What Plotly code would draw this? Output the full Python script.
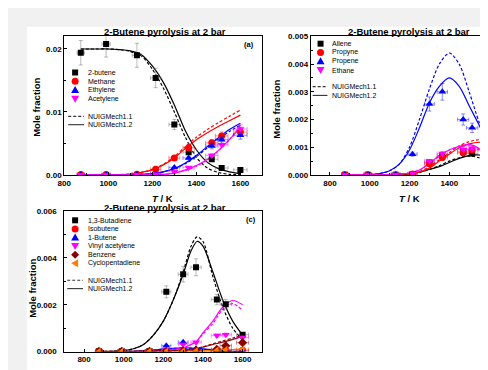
import plotly.graph_objects as go

W, H = 488, 370
FONT = "Liberation Sans, Arial, sans-serif"

# ---------------- data ----------------
T_exp = [875, 990, 1130, 1215, 1300, 1365, 1470, 1515, 1600]
T_mod = [875, 950, 1000, 1050, 1100, 1150, 1200, 1250, 1300, 1350, 1400, 1450, 1500, 1550, 1600]
T_mod_c = [875, 950, 1000, 1050, 1100, 1150, 1200, 1250, 1300, 1340, 1370, 1400, 1450, 1500, 1550, 1600]

# panel (a) experiments
a_butene = [0.0194, 0.0208, 0.0190, 0.0154, 0.0080, 0.0036, 0.0025, 0.0011, 0.0008]
a_methane = [0.00005, 0.00005, 0.0001, 0.0009, 0.0027, 0.0043, 0.0051, 0.0062, 0.0068]
a_ethylene = [0.00003, 0.00003, 0.00005, 0.0002, 0.0012, 0.0027, 0.0046, 0.0056, 0.0063]
a_acetylene = [0.00003, 0.00003, 0.00003, 0.0001, 0.0005, 0.0012, 0.0031, 0.0048, 0.0073]
# panel (a) models
a_butene_m11 = [0.0200, 0.0200, 0.0200, 0.0199, 0.0196, 0.0189, 0.0168, 0.0138, 0.0100, 0.0060, 0.0028, 0.0011, 0.0004, 0.0001, 0.00005]
a_butene_m12 = [0.0200, 0.0200, 0.0200, 0.0199, 0.0197, 0.0191, 0.0173, 0.0147, 0.0111, 0.0070, 0.0040, 0.0020, 0.0010, 0.0005, 0.0002]
a_methane_m11 = [0, 0, 0.00002, 0.00005, 0.00015, 0.0004, 0.0009, 0.0017, 0.0029, 0.0045, 0.0060, 0.0072, 0.0083, 0.0093, 0.0103]
a_methane_m12 = [0, 0, 0.00002, 0.00005, 0.00015, 0.0004, 0.0008, 0.0016, 0.0027, 0.0042, 0.0056, 0.0067, 0.0077, 0.0086, 0.0095]
a_ethylene_m11 = [0, 0, 0, 0.00001, 0.00003, 0.00008, 0.0002, 0.0005, 0.0010, 0.0018, 0.0029, 0.0043, 0.0057, 0.0069, 0.0079]
a_ethylene_m12 = [0, 0, 0, 0.00001, 0.00003, 0.00008, 0.0002, 0.0005, 0.0010, 0.0019, 0.0031, 0.0045, 0.0059, 0.0072, 0.0082]
a_acetylene_m11 = [0, 0, 0, 0, 0.00001, 0.00002, 0.00005, 0.0001, 0.0003, 0.0007, 0.0014, 0.0024, 0.0038, 0.0056, 0.0079]
a_acetylene_m12 = [0, 0, 0, 0, 0.00001, 0.00002, 0.00005, 0.0001, 0.0003, 0.0008, 0.0015, 0.0025, 0.0039, 0.0056, 0.0076]

# panel (b) experiments
b_allene = [0.00001, 0.00001, 0.00001, 0.00003, 0.00045, 0.0007, 0.00084, 0.00077, 0.00063]
b_propyne = [0.00001, 0.00001, 0.00001, 0.00003, 0.0004, 0.00063, 0.0008, 0.0009, 0.0007]
b_propene = [0.00001, 0.00001, 0.00002, 0.00075, 0.00256, 0.0030, 0.0020, 0.0017, 0.0006]
b_ethane = [0.00001, 0.00001, 0.00001, 0.00005, 0.0005, 0.00077, 0.00092, 0.00095, 0.0005]
# panel (b) models
b_allene_m11 = [0, 0, 0, 0, 0.00001, 0.00002, 0.00004, 0.0001, 0.0002, 0.00033, 0.0005, 0.00062, 0.00068, 0.00062, 0.00045]
b_allene_m12 = [0, 0, 0, 0, 0.00001, 0.00002, 0.00004, 0.0001, 0.0002, 0.0003, 0.00045, 0.0006, 0.0007, 0.00072, 0.00062]
b_propyne_m11 = [0, 0, 0, 0, 0.00001, 0.00002, 0.00005, 0.00012, 0.0003, 0.00055, 0.0008, 0.00105, 0.0012, 0.00127, 0.00122]
b_propyne_m12 = [0, 0, 0, 0, 0.00001, 0.00002, 0.00005, 0.0001, 0.00025, 0.0005, 0.00075, 0.00098, 0.00112, 0.00118, 0.00112]
b_propene_m11 = [0, 0.00001, 0.00002, 0.00005, 0.00015, 0.0004, 0.0010, 0.0020, 0.0031, 0.0040, 0.0044, 0.0040, 0.0030, 0.0019, 0.0010]
b_propene_m12 = [0, 0.00001, 0.00002, 0.00005, 0.00015, 0.0004, 0.0009, 0.0017, 0.0026, 0.0032, 0.0035, 0.0032, 0.0025, 0.0018, 0.0011]
b_ethane_m11 = [0, 0, 0, 0, 0.00001, 0.00003, 0.00007, 0.00018, 0.0004, 0.00068, 0.0009, 0.00102, 0.00105, 0.0009, 0.0005]
b_ethane_m12 = [0, 0, 0, 0, 0.00001, 0.00003, 0.00007, 0.00018, 0.00042, 0.0007, 0.0009, 0.00103, 0.0011, 0.00095, 0.00055]

# panel (c) experiments
c_butadiene = [0.00001, 0.00001, 0.00002, 0.00255, 0.00330, 0.00360, 0.00222, 0.00202, 0.00072]
c_isobutene = [0.00001, 0.00001, 0.00001, 0.00001, 0.00002, 0.00003, 0.00004, 0.00005, 0.00005]
c_butene1 = [0.00001, 0.00001, 0.00002, 0.00025, 0.0004, 0.00012, 0.00005, 0.00003, 0.00001]
c_vinylacet = [0.00001, 0.00001, 0.00001, 0.00005, 0.0003, 0.0004, 0.00068, 0.00072, 0.0006]
c_benzene = [0.00001, 0.00001, 0.00001, 0.00001, 0.00003, 0.00005, 0.0001, 0.00025, 0.00038]
c_cpd = [0.0, 0.0, 0.0, 0.0, 0.00001, 0.00002, 0.00005, 0.00007, 0.0001]
# panel (c) models
c_butadiene_m11 = [0, 0.00001, 0.00004, 0.00012, 0.0003, 0.0007, 0.0013, 0.0022, 0.0034, 0.0045, 0.0049, 0.0047, 0.0032, 0.0019, 0.0010, 0.0005]
c_butadiene_m12 = [0, 0.00001, 0.00004, 0.00012, 0.0003, 0.0007, 0.0013, 0.0022, 0.0033, 0.0043, 0.0047, 0.0045, 0.0034, 0.0022, 0.0013, 0.0007]
c_vinylacet_m11 = [0, 0, 0, 0, 0.00001, 0.00002, 0.00004, 0.00008, 0.00015, 0.0003, 0.00045, 0.00075, 0.0012, 0.0018, 0.00205, 0.00175]
c_vinylacet_m12 = [0, 0, 0, 0, 0.00001, 0.00002, 0.00004, 0.00008, 0.00015, 0.0003, 0.00045, 0.0008, 0.0013, 0.0019, 0.00218, 0.0020]
c_benzene_m11 = [0.00001, 0.00001, 0.00001, 0.00001, 0.00002, 0.00002, 0.00003, 0.00004, 0.00006, 0.0001, 0.00014, 0.0002, 0.00033, 0.00045, 0.00058, 0.0007]
c_benzene_m12 = [0.00001, 0.00001, 0.00001, 0.00001, 0.00002, 0.00002, 0.00003, 0.00004, 0.00005, 0.00009, 0.00013, 0.00019, 0.0003, 0.0004, 0.00052, 0.00065]
c_butene1_m11 = [0, 0, 0, 0.00001, 0.00003, 0.00006, 0.0001, 0.00013, 0.00015, 0.00014, 0.00012, 0.0001, 0.00006, 0.00003, 0.00001, 0]
c_butene1_m12 = [0, 0, 0, 0.00001, 0.00003, 0.00006, 0.00011, 0.00014, 0.00016, 0.00015, 0.00013, 0.00011, 0.00007, 0.00003, 0.00001, 0]
c_isobutene_m11 = [0, 0, 0, 0, 0.00001, 0.00002, 0.00003, 0.00004, 0.00005, 0.00005, 0.00004, 0.00003, 0.00002, 0.00001, 0, 0]
c_isobutene_m12 = [0, 0, 0, 0, 0.00001, 0.00002, 0.00003, 0.00004, 0.00005, 0.00005, 0.00004, 0.00003, 0.00002, 0.00001, 0, 0]
c_cpd_m11 = [0, 0, 0, 0, 0, 0, 0, 0.00001, 0.00001, 0.00002, 0.00002, 0.00003, 0.00005, 0.00007, 0.00009, 0.00011]
c_cpd_m12 = [0, 0, 0, 0, 0, 0, 0, 0.00001, 0.00001, 0.00002, 0.00002, 0.00003, 0.00004, 0.00006, 0.00008, 0.0001]

TITLE = "2-Butene pyrolysis at 2 bar"
MODEL_NAMES = ["NUIGMech1.1", "NUIGMech1.2"]

# ---------------- styles ----------------
BLACK, RED, BLUE, MAG, DRED, ORG = "#000000", "#ff0000", "#0000ff", "#ff00ff", "#8b0000", "#ff8000"


def rgba(hexc, a):
    h = hexc.lstrip("#")
    return "rgba(%d,%d,%d,%.2f)" % (int(h[0:2], 16), int(h[2:4], 16), int(h[4:6], 16), a)


fig = go.Figure()


def add_model(ax, T, vals, color, dash):
    fig.add_trace(go.Scatter(
        x=T, y=vals, mode="lines", xaxis="x" + ax, yaxis="y" + ax,
        line=dict(color=color, width=1.2, dash=dash, shape="spline", smoothing=0.8),
        showlegend=False, hoverinfo="skip"))


def add_exp(ax, vals, color, symbol, size=6):
    ecol = rgba(color if color != BLACK else "#666666", 0.45)
    fig.add_trace(go.Scatter(
        x=T_exp, y=vals, mode="markers", xaxis="x" + ax, yaxis="y" + ax,
        marker=dict(symbol=symbol, size=size, color=color, line=dict(width=0)),
        error_y=dict(type="percent", value=10, color=ecol, thickness=1, width=2),
        error_x=dict(type="percent", value=1.9, color=ecol, thickness=1, width=2),
        showlegend=False))


DASH = "3px,2px"
# panel a (axis suffix "")
for m11, m12, c in [(a_butene_m11, a_butene_m12, BLACK), (a_methane_m11, a_methane_m12, RED),
                    (a_ethylene_m11, a_ethylene_m12, BLUE), (a_acetylene_m11, a_acetylene_m12, MAG)]:
    add_model("", T_mod, m11, c, DASH)
    add_model("", T_mod, m12, c, "solid")
add_exp("", a_butene, BLACK, "square")
add_exp("", a_methane, RED, "circle", 7)
add_exp("", a_ethylene, BLUE, "triangle-up", 7)
add_exp("", a_acetylene, MAG, "triangle-down", 7)

# panel b
for m11, m12, c in [(b_propene_m11, b_propene_m12, BLUE), (b_allene_m11, b_allene_m12, BLACK),
                    (b_propyne_m11, b_propyne_m12, RED), (b_ethane_m11, b_ethane_m12, MAG)]:
    add_model("2", T_mod, m11, c, DASH)
    add_model("2", T_mod, m12, c, "solid")
add_exp("2", b_allene, BLACK, "square")
add_exp("2", b_propyne, RED, "circle", 7)
add_exp("2", b_propene, BLUE, "triangle-up", 7)
add_exp("2", b_ethane, MAG, "triangle-down", 7)

# panel c
for m11, m12, c in [(c_butadiene_m11, c_butadiene_m12, BLACK), (c_isobutene_m11, c_isobutene_m12, RED),
                    (c_butene1_m11, c_butene1_m12, BLUE), (c_vinylacet_m11, c_vinylacet_m12, MAG),
                    (c_cpd_m11, c_cpd_m12, ORG), (c_benzene_m11, c_benzene_m12, DRED)]:
    add_model("3", T_mod_c, m11, c, DASH)
    add_model("3", T_mod_c, m12, c, "solid")
add_exp("3", c_butadiene, BLACK, "square")
add_exp("3", c_isobutene, RED, "circle", 7)
add_exp("3", c_butene1, BLUE, "triangle-up", 7)
add_exp("3", c_vinylacet, MAG, "triangle-down", 7)
add_exp("3", c_benzene, DRED, "diamond", 7)
add_exp("3", c_cpd, ORG, "triangle-left", 7)

# ---------------- axes ----------------
def px(x):
    return x / W


def py(y):
    return 1 - y / H


TICKFONT = dict(family=FONT, size=8, color="#000", weight="bold")
common = dict(showline=True, linecolor="#000", linewidth=1, ticks="inside", ticklen=3, tickwidth=1,
              tickcolor="#000", showgrid=False, zeroline=False, tickfont=TICKFONT, fixedrange=True)

fig.update_layout(
    xaxis=dict(domain=[px(50), px(251)], range=[800, 1700], anchor="y", mirror=True,
               tickvals=[800, 1000, 1200, 1400, 1600],
               minor=dict(ticks="inside", ticklen=2, dtick=100, tick0=800, tickcolor="#000"), **common),
    yaxis=dict(domain=[py(167), py(25)], range=[0, 0.022], anchor="x", mirror=True,
               tickvals=[0, 0.01, 0.02], ticktext=["0.00", "0.01", "0.02"],
               minor=dict(ticks="inside", ticklen=2, dtick=0.005, tick0=0, tickcolor="#000"), **common),
    xaxis2=dict(domain=[px(300), 1.0], range=[703, 1635], anchor="y2", mirror=True,
                tickvals=[800, 1000, 1200, 1400, 1600],
                minor=dict(ticks="inside", ticklen=2, dtick=100, tick0=800, tickcolor="#000"), **common),
    yaxis2=dict(domain=[py(167), py(25)], range=[0, 0.005], anchor="x2", mirror=False,
                tickvals=[0, 0.001, 0.002, 0.003, 0.004, 0.005],
                ticktext=["0.000", "0.001", "0.002", "0.003", "0.004", "0.005"],
                minor=dict(ticks="inside", ticklen=2, dtick=0.0005, tick0=0, tickcolor="#000"), **common),
    xaxis3=dict(domain=[px(50), px(251)], range=[700, 1700], anchor="y3", mirror=True,
                tickvals=[800, 1000, 1200, 1400, 1600],
                minor=dict(ticks="inside", ticklen=2, dtick=100, tick0=800, tickcolor="#000"), **common),
    yaxis3=dict(domain=[py(348), py(204)], range=[0, 0.006], anchor="x3", mirror=True,
                tickvals=[0, 0.002, 0.004, 0.006], ticktext=["0.000", "0.002", "0.004", "0.006"],
                ticklabelstandoff=5,
                minor=dict(ticks="inside", ticklen=2, dtick=0.001, tick0=0, tickcolor="#000"), **common),
)

# ---------------- text ----------------
ann = []


def text(x, y, s, size=7, bold=False, anchor="left", angle=0):
    ann.append(dict(x=px(x), y=py(y), xref="paper", yref="paper", text=s, showarrow=False,
                    xanchor=anchor, yanchor="middle", textangle=angle,
                    font=dict(family=FONT, size=size, color="#000", weight="bold" if bold else "normal")))


for cx, cy in [(152, 20), (400, 20), (152, 200)]:
    text(cx, cy, TITLE, size=9.5, bold=True, anchor="center")
for cx, cy in [(150, 191), (400, 191), (150, 371)]:
    text(cx, cy, "<i>T</i> / K", size=9.5, bold=True, anchor="center")
for cx, cy in [(21.5, 98), (265, 100), (17, 283)]:
    text(cx, cy, "Mole fraction", size=9.5, bold=True, anchor="center", angle=-90)
text(245, 33, "(a)", size=7.5, bold=True, anchor="right")
text(485, 33, "(b)", size=7.5, bold=True, anchor="left")
text(247, 213, "(c)", size=7.5, bold=True, anchor="right")

shapes = [dict(type="rect", xref="paper", yref="paper", x0=px(12), x1=1.0, y0=0.0, y1=py(15),
               fillcolor="#ffffff", line=dict(width=0), layer="below")]

SYM = {
    "square": "M-3,-3L3,-3L3,3L-3,3Z",
    "triangle-up": "M-4,-3L4,-3L0,4Z",
    "triangle-down": "M-4,3L4,3L0,-4Z",
    "diamond": "M0,-4L4,0L0,4L-4,0Z",
    "triangle-left": "M3,-4L3,4L-4,0Z",
}


def legend_marker(x, y, sym, color):
    if sym == "circle":
        shapes.append(dict(type="circle", xref="paper", yref="paper", xsizemode="pixel", ysizemode="pixel",
                           xanchor=px(x), yanchor=py(y), x0=-3.5, x1=3.5, y0=-3.5, y1=3.5,
                           fillcolor=color, line=dict(width=0)))
    else:
        shapes.append(dict(type="path", xref="paper", yref="paper", xsizemode="pixel", ysizemode="pixel",
                           xanchor=px(x), yanchor=py(y), path=SYM[sym],
                           fillcolor=color, line=dict(width=0)))


def legend_line(x0, x1, y, dash):
    shapes.append(dict(type="line", xref="paper", yref="paper", x0=px(x0), x1=px(x1), y0=py(y), y1=py(y),
                       line=dict(color="#333333", width=1.1, dash=dash)))


legends = [
    (61, 72, [62, 71, 80, 89], [("2-butene", "square", BLACK), ("Methane", "circle", RED),
                                ("Ethylene", "triangle-up", BLUE), ("Acetylene", "triangle-down", MAG)],
     54, 70, [107, 115.5]),
    (310, 320, [32.5, 41.5, 50.5, 59.5], [("Allene", "square", BLACK), ("Propyne", "circle", RED),
                                         ("Propene", "triangle-up", BLUE), ("Ethane", "triangle-down", MAG)],
     302, 317, [76.5, 85.5]),
    (61, 72, [213.5, 222.3, 231.1, 239.9, 248.7, 257.5],
     [("1,3-Butadiene", "square", BLACK), ("Isobutene", "circle", RED), ("1-Butene", "triangle-up", BLUE),
      ("Vinyl acetylene", "triangle-down", MAG), ("Benzene", "diamond", DRED),
      ("Cyclopentadiene", "triangle-left", ORG)],
     53, 69, [275, 283.5]),
]
for mx, tx, ys, items, lx0, lx1, lys in legends:
    for (name, sym, col), yy in zip(items, ys):
        legend_marker(mx, yy, sym, col)
        text(tx, yy, name, size=7)
    for name, dash, yy in zip(MODEL_NAMES, [DASH, "solid"], lys):
        legend_line(lx0, lx1, yy, dash)
        text(tx, yy, name, size=7)

fig.update_layout(
    width=W, height=H, margin=dict(l=0, r=0, t=0, b=0, pad=0),
    paper_bgcolor="#f1f1f1", plot_bgcolor="#ffffff",
    showlegend=False, annotations=ann, shapes=shapes,
    font=dict(family=FONT, color="#000"),
)

fig.write_html("out.html")
